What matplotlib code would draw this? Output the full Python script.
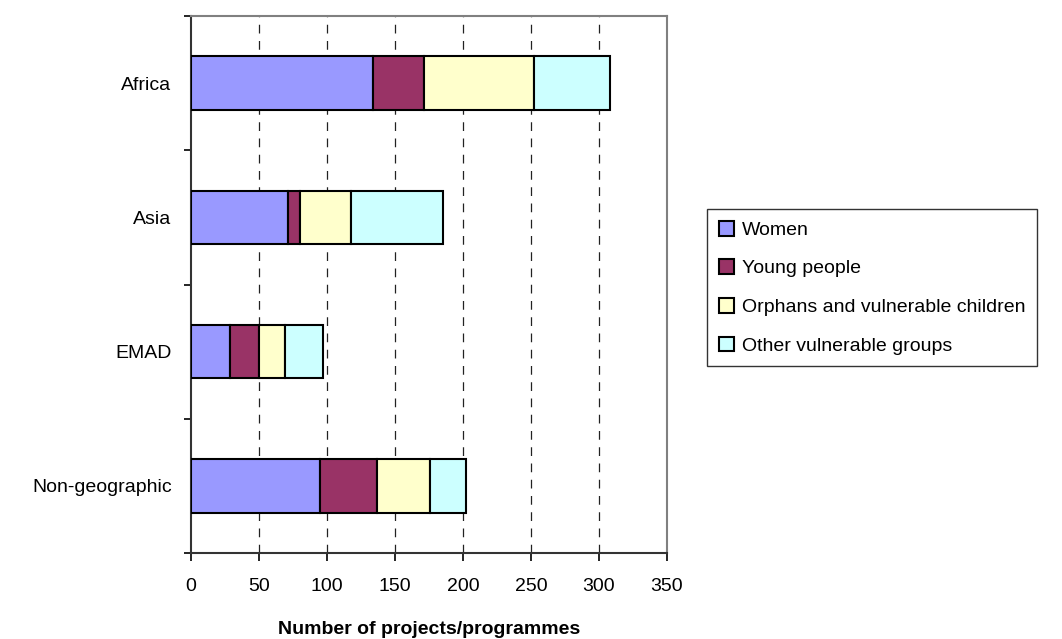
import matplotlib
matplotlib.use("Agg")
import matplotlib.pyplot as plt
import numpy as np

categories = ["Africa", "Asia", "EMAD", "Non-geographic"]
series_names = ["Women", "Young people", "Orphans and vulnerable children", "Other vulnerable groups"]
women = [134, 71, 29, 95]
young = [37, 9, 21, 42]
orphans = [81, 38, 19, 39]
other = [56, 67, 28, 26]
xticks = [0, 50, 100, 150, 200, 250, 300, 350]
xlabel = "Number of projects/programmes"

colors = ["#9999FF", "#993366", "#FFFFCC", "#CCFFFF"]

plt.rcParams["font.family"] = ["Liberation Sans", "DejaVu Sans"]

fig = plt.figure(figsize=(10.62, 6.39), dpi=100)
ax = fig.add_axes([191/1062, 1-553/639, 476/1062, 537/639])

y = np.arange(len(categories))
left = np.zeros(len(categories))
for vals, name, c in zip([women, young, orphans, other], series_names, colors):
    ax.barh(y, vals, left=left, height=0.4, color=c, edgecolor="black", linewidth=1.5, label=name, zorder=3)
    left = left + np.array(vals)

ax.set_xlim(0, 350)
ax.set_ylim(3.5, -0.5)
ax.set_xticks(xticks)
ax.set_xticklabels([str(t) for t in xticks], fontsize=14)
ax.set_yticks(np.arange(-0.5, 4.0, 1.0))
ax.set_yticklabels([])
ax.set_yticks(y, minor=True)
ax.set_yticklabels(categories, minor=True, fontsize=14)
ax.tick_params(axis="y", which="minor", length=0, pad=14)
ax.tick_params(axis="y", which="major", length=5, width=1.2, direction="out")
ax.tick_params(axis="x", which="major", length=6, width=1.2, direction="out", pad=12)
for t in xticks[1:-1]:
    ax.axvline(t, color="#222222", linestyle=(0, (7, 6)), linewidth=0.9, zorder=1)
for s in ["top", "right"]:
    ax.spines[s].set_color("#808080")
    ax.spines[s].set_linewidth(1.5)
for s in ["left", "bottom"]:
    ax.spines[s].set_color("#333333")
    ax.spines[s].set_linewidth(1.5)
ax.set_xlabel(xlabel, fontsize=14, fontweight="bold", labelpad=19)

handles, labels = ax.get_legend_handles_labels()
leg = fig.legend(handles, labels, loc="upper left", bbox_to_anchor=(707/1062, 1-209/639),
                 fontsize=14, frameon=True, fancybox=False, edgecolor="black",
                 handlelength=0.8, handleheight=0.8, handletextpad=0.4,
                 labelspacing=1.05, borderpad=0.6, borderaxespad=0)
leg.get_frame().set_linewidth(1.0)

fig.savefig("out.png", dpi=100)
